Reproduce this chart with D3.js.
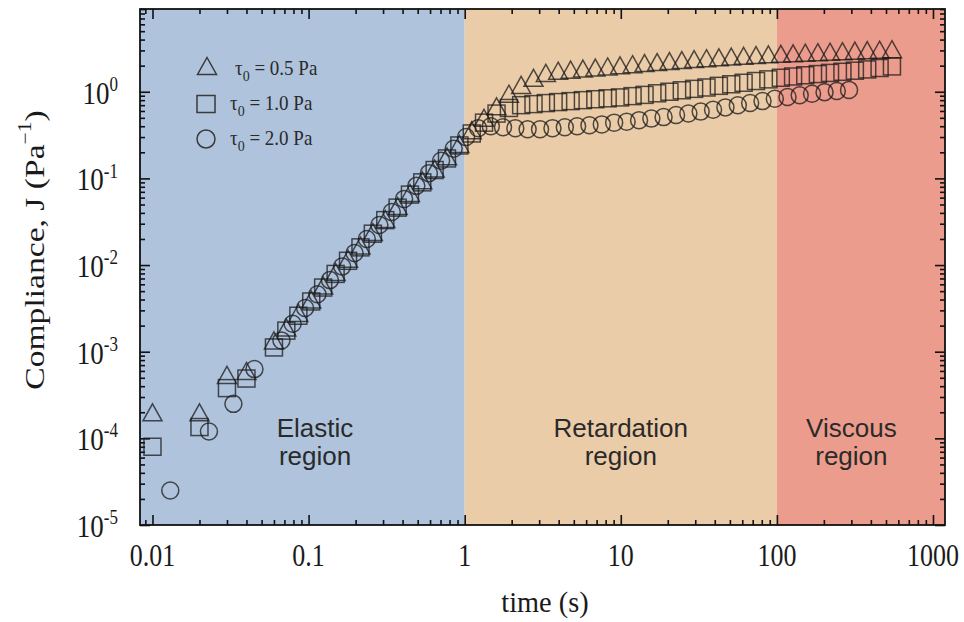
<!DOCTYPE html>
<html>
<head>
<meta charset="utf-8">
<script src="https://cdn.jsdelivr.net/npm/d3@7"></script>
<style>
  html, body { margin: 0; padding: 0; background: #ffffff; }
  svg { display: block; }
</style>
</head>
<body>
<svg id="chart" width="964" height="622"></svg>
<script>
// Creep compliance J(t) for three applied stresses, log–log axes

// τ0 = 0.5 Pa (triangles)
const timeTri = [0.01, 0.02, 0.03, 0.04, 0.06, 0.072, 0.086, 0.104, 0.124, 0.149, 0.179, 0.215, 0.258, 0.31, 0.372, 0.446, 0.535, 0.642, 0.77, 0.925,
  1.11, 1.33, 1.6, 1.92, 2.3, 2.76, 3.31, 3.97, 4.77, 5.72, 6.87, 8.24, 9.89, 11.9, 14.2, 17.1, 20.5, 24.6, 29.5, 35.4, 42.5, 51, 61.2, 73.5, 88.2,
  106, 127, 152, 183, 219, 263, 316, 379, 455, 546];
const compTri = [2.0e-4, 2.0e-4, 5.4e-4, 6.0e-4, 1.35e-3, 1.9e-3, 2.8e-3, 4.0e-3, 5.8e-3, 8.3e-3, 0.0118, 0.0168, 0.024, 0.034, 0.048, 0.068, 0.095, 0.13, 0.18, 0.25,
  0.36, 0.5, 0.68, 0.95, 1.2, 1.45, 1.65, 1.75, 1.8, 1.85, 1.9, 1.96, 2.02, 2.08, 2.14, 2.2, 2.26, 2.32, 2.38, 2.44, 2.5, 2.55, 2.6, 2.65, 2.7,
  2.74, 2.78, 2.82, 2.86, 2.9, 2.94, 2.98, 3.02, 3.06, 3.1];

// τ0 = 1.0 Pa (squares)
const timeSq = timeTri;
const compSq = [8.0e-5, 1.35e-4, 3.8e-4, 4.9e-4, 1.12e-3, 1.75e-3, 2.6e-3, 3.8e-3, 5.5e-3, 7.9e-3, 0.0112, 0.016, 0.023, 0.033, 0.046, 0.065, 0.09, 0.125, 0.17, 0.24,
  0.33, 0.44, 0.56, 0.65, 0.7, 0.72, 0.74, 0.76, 0.78, 0.8, 0.82, 0.84, 0.86, 0.89, 0.92, 0.96, 1.0, 1.04, 1.08, 1.12, 1.17, 1.22, 1.27, 1.33, 1.39,
  1.45, 1.5, 1.55, 1.6, 1.65, 1.7, 1.75, 1.81, 1.88, 1.96];

// τ0 = 2.0 Pa (circles)
const timeCirc = [0.013, 0.023, 0.033, 0.045, 0.067, 0.079, 0.095, 0.114, 0.137, 0.164, 0.197, 0.236, 0.284, 0.341, 0.409, 0.49, 0.59, 0.706, 0.85,
  1.02, 1.22, 1.47, 1.76, 2.11, 2.53, 3.04, 3.65, 4.38, 5.25, 6.3, 7.56, 9.07, 10.9, 13.1, 15.7, 18.8, 22.6, 27.1, 32.5, 39, 46.8, 56.2, 67.4, 80.9,
  97, 117, 140, 168, 202, 242, 290];
const compCirc = [2.5e-5, 1.2e-4, 2.5e-4, 6.3e-4, 1.35e-3, 2.1e-3, 3.2e-3, 4.6e-3, 6.7e-3, 9.6e-3, 0.0138, 0.02, 0.029, 0.041, 0.058, 0.082, 0.115, 0.16, 0.22,
  0.3, 0.38, 0.4, 0.39, 0.38, 0.37, 0.37, 0.38, 0.39, 0.4, 0.41, 0.42, 0.44, 0.45, 0.47, 0.49, 0.51, 0.54, 0.56, 0.59, 0.62, 0.66, 0.7, 0.74, 0.78,
  0.83, 0.87, 0.91, 0.95, 0.99, 1.02, 1.05];

// Flow regimes along the time axis
const regionNames = ["Elastic", "Retardation", "Viscous"];
const regionStart = [null, 1, 100];   // null = axis start
const regionEnd = [1, 100, null];     // null = axis end
const regionLabelTime = [0.11, 10, 300];
const regionColors = ["#afc3dc", "#ebcca8", "#ec9c8c"];

const xTickValues = [0.01, 0.1, 1, 10, 100, 1000];
const xTickLabels = ["0.01", "0.1", "1", "10", "100", "1000"];
const yTickExponents = [0, -1, -2, -3, -4, -5];

const legendLabels = ["0.5 Pa", "1.0 Pa", "2.0 Pa"];

// ---- layout ----
const svg = d3.select("#chart");
const L = 140, R = 945, T = 9, B = 525;

const x = d3.scaleLog().domain([Math.pow(10, -2.08), Math.pow(10, 3.077)]).range([L, R]);
const y = d3.scaleLog().domain([1e-5, Math.pow(10, 0.955)]).range([B, T]);

// background bands
const [xd0, xd1] = x.domain();
svg.append("g").selectAll("rect")
  .data(regionNames.map((n, i) => ({ n, s: regionStart[i] ?? xd0, e: regionEnd[i] ?? xd1, c: regionColors[i] })))
  .join("rect")
  .attr("x", d => x(d.s)).attr("y", T)
  .attr("width", d => x(d.e) - x(d.s)).attr("height", B - T)
  .attr("fill", d => d.c);

// region captions
const cap = svg.append("g")
  .attr("font-family", "'Liberation Sans', Arial, sans-serif")
  .attr("font-size", 26).attr("fill", "#2a2a2a").attr("text-anchor", "middle");
regionNames.forEach((n, i) => {
  const cx = x(regionLabelTime[i]);
  cap.append("text").attr("x", cx).attr("y", 437).text(n);
  cap.append("text").attr("x", cx).attr("y", 465).text("region");
});

// ---- ticks (all four sides, pointing inward) ----
const minorX = [], minorY = [];
for (let k = -3; k <= 3; k++) for (let m = 2; m <= 9; m++) {
  const v = m * Math.pow(10, k);
  if (v > xd0 && v < xd1) minorX.push(v);
}
const [yd0, yd1] = y.domain();
for (let k = -5; k <= 0; k++) for (let m = 2; m <= 9; m++) {
  const v = m * Math.pow(10, k);
  if (v > yd0 && v < yd1) minorY.push(v);
}
const majorY = yTickExponents.map(e => Math.pow(10, e));

function tickAxis(gen, pos, values, size) {
  const g = svg.append("g").attr("transform", pos)
    .call(gen.tickValues(values).tickSize(size).tickFormat(""));
  g.select(".domain").remove();
  g.selectAll("line").attr("stroke", "#111").attr("stroke-width", 1.6);
  return g;
}
tickAxis(d3.axisBottom(x), `translate(0,${B})`, xTickValues, -10);
tickAxis(d3.axisBottom(x), `translate(0,${B})`, minorX, -5);
tickAxis(d3.axisTop(x), `translate(0,${T})`, xTickValues, -10);
tickAxis(d3.axisTop(x), `translate(0,${T})`, minorX, -5);
tickAxis(d3.axisLeft(y), `translate(${L},0)`, majorY, -10);
tickAxis(d3.axisLeft(y), `translate(${L},0)`, minorY, -5);
tickAxis(d3.axisRight(y), `translate(${R},0)`, majorY, -10);
tickAxis(d3.axisRight(y), `translate(${R},0)`, minorY, -5);

// frame
svg.append("rect").attr("x", L).attr("y", T).attr("width", R - L).attr("height", B - T)
  .attr("fill", "none").attr("stroke", "#111").attr("stroke-width", 1.8);

// ---- tick labels (serif glyphs are drawn slightly tall) ----
const serif = "'Liberation Serif', 'Times New Roman', serif";
svg.append("g").attr("font-family", serif).attr("font-size", 26).attr("fill", "#1a1a1a")
  .attr("text-anchor", "middle")
  .selectAll("text").data(xTickValues).join("text")
  .attr("transform", d => `translate(${x(d)},566) scale(1,1.2)`)
  .text((d, i) => xTickLabels[i]);

const yl = svg.append("g").attr("font-family", serif).attr("fill", "#1a1a1a");
yTickExponents.forEach(e => {
  const t = yl.append("text").attr("text-anchor", "end")
    .attr("transform", `translate(118,${y(Math.pow(10, e)) + 12}) scale(1,1.17)`)
    .attr("font-size", 27);
  t.append("tspan").text("10");
  t.append("tspan").attr("font-size", 17).attr("dy", -11).text(String(e));
});

// axis titles
svg.append("text").attr("font-family", serif).attr("font-size", 27).attr("fill", "#1a1a1a")
  .attr("text-anchor", "middle").attr("transform", "translate(545,612) scale(1.05,1.12)").text("time (s)");

const yt = svg.append("text").attr("font-family", serif).attr("font-size", 28).attr("fill", "#1a1a1a")
  .attr("text-anchor", "middle").attr("transform", "translate(44,250) rotate(-90) scale(1.2,1)");
yt.append("tspan").text("Compliance, J (Pa");
yt.append("tspan").attr("font-size", 18).attr("dy", -13).text("\u22121");
yt.append("tspan").attr("dy", 13).text(")");

// ---- markers ----
const triPath = "M0,-8.5L9.5,8.5L-9.5,8.5Z";
function series(times, vals) { return times.map((t, i) => ({ t, v: vals[i] })); }

const mk = svg.append("g").attr("fill", "none").attr("stroke", "#1a1a1a")
  .attr("stroke-opacity", 0.75).attr("stroke-width", 1.5);

mk.append("g").selectAll("circle").data(series(timeCirc, compCirc)).join("circle")
  .attr("cx", d => x(d.t)).attr("cy", d => y(d.v)).attr("r", 8.5);

mk.append("g").selectAll("rect").data(series(timeSq, compSq)).join("rect")
  .attr("x", d => x(d.t) - 8.5).attr("y", d => y(d.v) - 8.5)
  .attr("width", 17).attr("height", 17);

mk.append("g").selectAll("path").data(series(timeTri, compTri)).join("path")
  .attr("d", triPath)
  .attr("transform", d => `translate(${x(d.t)},${y(d.v)})`);

// ---- legend ----
const lg = svg.append("g");
const legY = [66, 104, 139];
lg.append("path").attr("d", triPath).attr("transform", `translate(207,${legY[0]})`)
  .attr("fill", "none").attr("stroke", "#3a3a3a").attr("stroke-width", 1.5);
lg.append("rect").attr("x", 197).attr("y", legY[1] - 8.5).attr("width", 18).attr("height", 17)
  .attr("fill", "none").attr("stroke", "#3a3a3a").attr("stroke-width", 1.5);
lg.append("circle").attr("cx", 206).attr("cy", legY[2]).attr("r", 9)
  .attr("fill", "none").attr("stroke", "#3a3a3a").attr("stroke-width", 1.5);

legendLabels.forEach((lab, i) => {
  const t = lg.append("text").attr("font-family", serif).attr("font-size", 19)
    .attr("fill", "#2a2a2a")
    .attr("transform", `translate(${i === 0 ? 235 : 230},${legY[i] + 6 + (i === 0 ? 3 : 0)}) scale(1,1.1)`);
  t.append("tspan").text("\u03c4");
  t.append("tspan").attr("font-size", 14).attr("dy", 5).text("0");
  t.append("tspan").attr("dy", -5).text(" = " + lab);
});
</script>
</body>
</html>
